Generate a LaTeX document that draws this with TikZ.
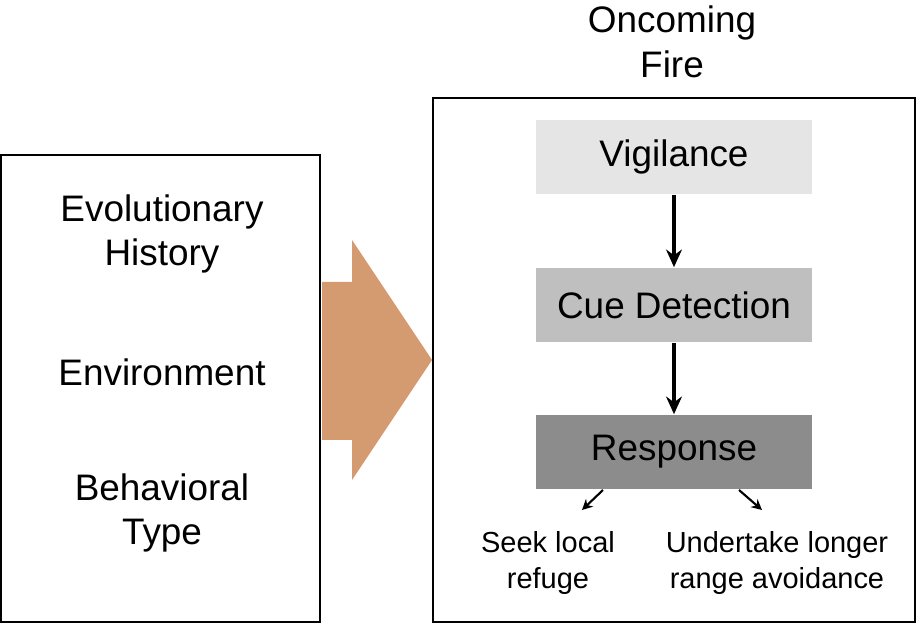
\documentclass[tikz,border=0pt]{standalone}
\usepackage{fontspec}
\setmainfont{Liberation Sans}
\usetikzlibrary{arrows.meta}
\definecolor{arrowfill}{RGB}{212,154,112}
\begin{document}
\begin{tikzpicture}[x=0.02cm, y=-0.02cm]
    \tikzstyle{big} = [align=center, font=\fontsize{21}{25.5}\selectfont]
    \tikzstyle{small} = [align=center, font=\fontsize{16.5}{21}\selectfont]
    \tikzstyle{stage} = [minimum width=5.52cm, minimum height=1.5cm, big]
    \useasboundingbox (0, 0) rectangle (917, 624);

    % left box with the factors
    \draw[line width=1.6pt] (1, 155) rectangle (320, 622);
        \node[big] (history) at (162, 234) {Evolutionary\\History};
        \node[big] (environment) at (162, 372) {Environment};
        \node[big] (type) at (162, 513) {Behavioral\\Type};

    % wide arrow
    \fill[arrowfill] (322, 282) -- (352, 282) -- (352, 240) -- (432, 360)
        -- (352, 480) -- (352, 440) -- (322, 440) -- cycle;

    % right box
    \node[big] (fire) at (672, 42) {Oncoming\\Fire};
    \draw[line width=1.6pt] (433, 98) rectangle (915, 622);

        \node[stage, fill=black!10] (vigilance) at (674, 157) {Vigilance};
        \node[stage, fill=black!25] (cue) at (674, 305) {Cue Detection};
        \node[stage, fill=black!45] (response) at (674, 452) {Response};

        \draw[-{Stealth[length=10pt, width=9pt]}, line width=1.8pt] (vigilance) -- (cue);
        \draw[-{Stealth[length=10pt, width=9pt]}, line width=1.8pt] (cue) -- (response);

        \node[small] (refuge) at (548, 563) {Seek local\\refuge};
        \node[small] (avoid) at (777, 563) {Undertake longer\\range avoidance};

        \coordinate (rl) at (603, 490);
        \coordinate (rr) at (739, 490);
        \draw[-{Stealth[length=6pt, width=6pt]}, line width=1.2pt] (rl) -- (582, 510);
        \draw[-{Stealth[length=6pt, width=6pt]}, line width=1.2pt] (rr) -- (762, 510);
\end{tikzpicture}
\end{document}
